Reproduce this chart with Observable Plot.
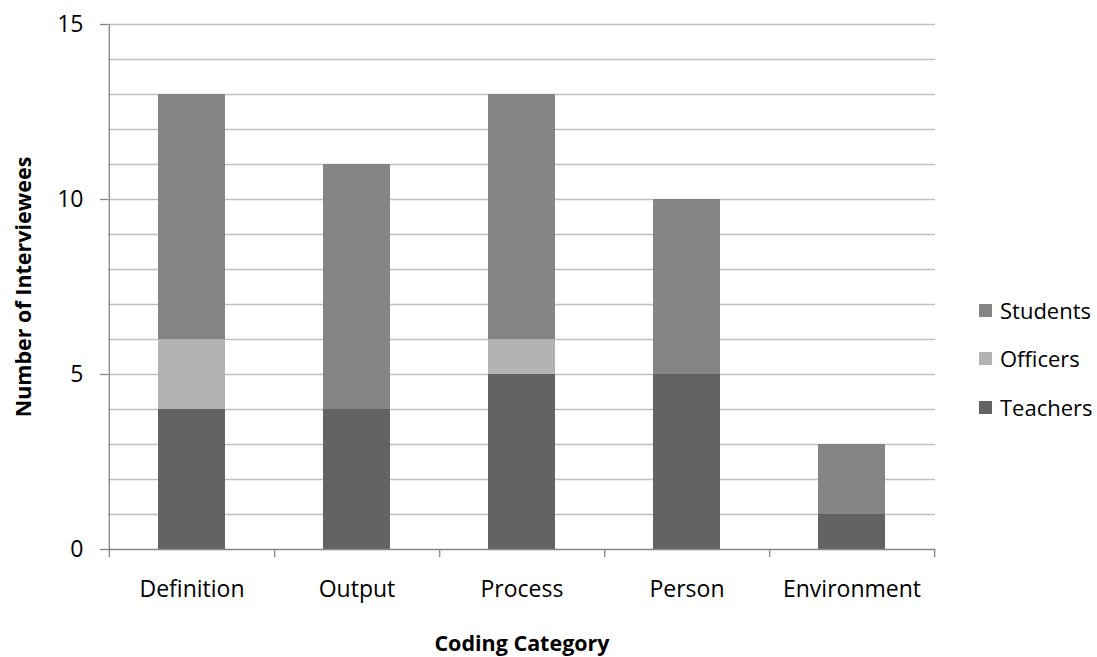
<!DOCTYPE html>
<html><head><meta charset="utf-8">
<script src="https://cdn.jsdelivr.net/npm/d3@7"></script>
<script src="https://cdn.jsdelivr.net/npm/@observablehq/plot@0.6"></script>
<style>
body{margin:0;background:#fff;}
#wrap{position:relative;width:1097px;height:657px;font-family:"Open Sans",sans-serif;}
#legend{position:absolute;left:979px;top:0;font-size:22px;color:#000;}
.item{position:absolute;left:0;display:flex;align-items:center;white-space:nowrap;transform:translateY(-50%);}
.sw{width:13px;height:13px;margin-right:8px;}
[aria-label="y-axis label"],[aria-label="x-axis label"]{font-weight:bold;font-size:21.5px;}
</style></head>
<body><div id="wrap"></div>
<script>
const categories = ["Definition","Output","Process","Person","Environment"];
const seriesNames = ["Teachers","Officers","Students"];
const teachers = [4,4,5,5,1];
const officers = [2,0,1,0,0];
const students = [7,7,7,5,2];
const yTicks = [0,5,10,15];
const gridTicks = [1,2,3,4,5,6,7,8,9,10,11,12,13,14,15];
const seriesColors = ["#636363","#b3b3b3","#858585"];
const legendOrder = ["Students","Officers","Teachers"];
const xTitle = "Coding Category";
const yTitle = "Number of Interviewees";

const seriesValues = [teachers, officers, students];
const rows = [];
categories.forEach((c,i)=>seriesNames.forEach((s,j)=>rows.push({category:c, series:s, value:seriesValues[j][i]})));

const W=1097,H=657,ml=108,mr=162,mt=24,mb=108;
const step=(W-ml-mr)/categories.length;
const axisColor="#868686";
const tickLen=-8/35;

const plot = Plot.plot({
  width:W,height:H,marginLeft:ml,marginRight:mr,marginTop:mt,marginBottom:mb,
  style:{fontFamily:'"Open Sans", sans-serif',fontSize:"23px",color:"#000",background:"#fff",overflow:"visible"},
  x:{domain:categories,paddingInner:0.595,paddingOuter:0.2975},
  y:{domain:[0,15]},
  color:{domain:seriesNames,range:seriesColors},
  marks:[
    Plot.gridY(gridTicks,{stroke:"#c0c0c0",strokeOpacity:1,strokeWidth:1.3}),
    Plot.barY(rows,Plot.stackY({order:seriesNames},{x:"category",y:"value",fill:"series"})),
    Plot.ruleY([0],{stroke:axisColor,strokeWidth:1.3}),
    Plot.ruleX([categories[0]],{x:d=>d,dx:-step/2,y1:0,y2:15,stroke:axisColor,strokeWidth:1.3}),
    Plot.ruleX([categories[0]],{x:d=>d,dx:-step/2,y1:0,y2:tickLen,stroke:axisColor,strokeWidth:1.3}),
    Plot.ruleX(categories,{x:d=>d,dx:step/2,y1:0,y2:tickLen,stroke:axisColor,strokeWidth:1.3}),
    Plot.axisY(yTicks,{tickSize:8,tickPadding:17,stroke:axisColor,strokeWidth:1.3,label:yTitle,labelAnchor:"center",labelOffset:93,labelArrow:"none"}),
    Plot.axisX({tickSize:0,tickPadding:31,label:xTitle,labelAnchor:"center",labelOffset:101,labelArrow:"none"})
  ]
});
const wrap=document.getElementById("wrap");
wrap.appendChild(plot);

const legend=document.createElement("div");
legend.id="legend";
const rowY=[310,358,407];
legendOrder.forEach((s,i)=>{
  const it=document.createElement("div");
  it.className="item";
  it.style.top=rowY[i]+"px";
  const sw=document.createElement("span");
  sw.className="sw";
  sw.style.background=seriesColors[seriesNames.indexOf(s)];
  const t=document.createElement("span");
  t.textContent=s;
  it.appendChild(sw);it.appendChild(t);
  legend.appendChild(it);
});
wrap.appendChild(legend);
</script>
</body></html>
